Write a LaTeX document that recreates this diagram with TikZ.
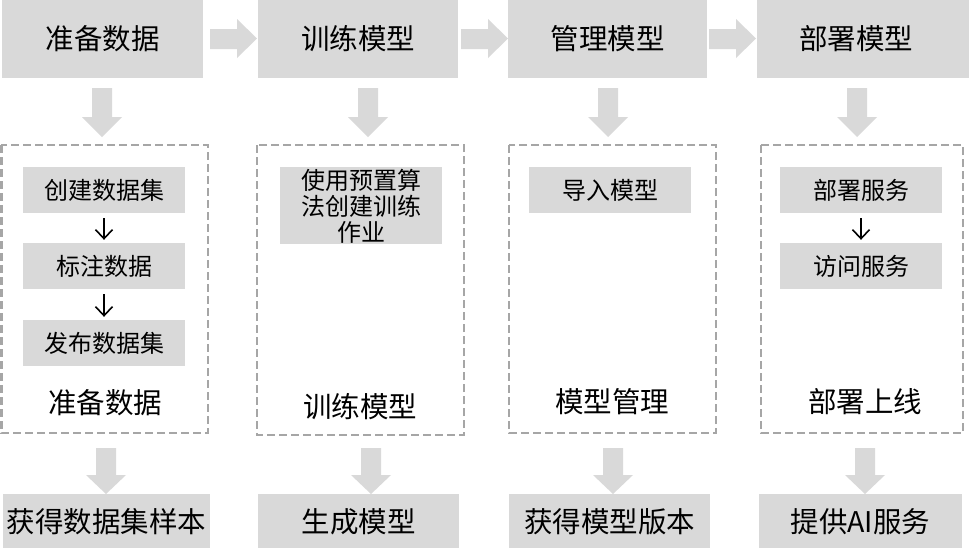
\documentclass[tikz,border=0pt]{standalone}
\usepackage{fontspec}
\setmainfont{Noto Sans CJK SC}
\usetikzlibrary{arrows.meta}
\definecolor{boxgray}{HTML}{D9D9D9}
\definecolor{dashgray}{HTML}{A6A6A6}
\tikzset{
  bigbox/.style={fill=boxgray, inner sep=0pt, font=\fontsize{28.5}{30}\selectfont},
  innerbox/.style={fill=boxgray, inner sep=0pt, minimum width=162pt, minimum height=46pt, font=\fontsize{24}{26}\selectfont},
  lbl/.style={inner sep=0pt, font=\fontsize{28.5}{30}\selectfont},
  dashbox/.style={draw=dashgray, line width=2.6pt, dash pattern=on 8pt off 4pt},
  smallarrow/.style={-{Straight Barb[length=9pt,width=17pt]}, line width=1.6pt, shorten <=5pt, shorten >=3pt},
}
\newcommand{\blockright}[1]{\fill[boxgray] (#1,29) -- ++(27,0) -- ++(0,-10) -- ++(20,19.5) -- ++(-20,19.5) -- ++(0,-9) -- ++(-27,0) -- cycle;}
\newcommand{\blockdownA}[1]{\fill[boxgray] (#1-10,88) -- (#1+10,88) -- (#1+10,117) -- (#1+20,117) -- (#1,137) -- (#1-20,117) -- (#1-10,117) -- cycle;}
\newcommand{\blockdownB}[1]{\fill[boxgray] (#1-10,448) -- (#1+10,448) -- (#1+10,475) -- (#1+20,475) -- (#1,494) -- (#1-20,475) -- (#1-10,475) -- cycle;}
\begin{document}
\begin{tikzpicture}[x=1pt,y=-1pt]
\useasboundingbox (0,0) rectangle (969,547);
\fill[white] (0,0) rectangle (969,547);

% top row
\node[bigbox, minimum width=201pt, minimum height=78pt] (t1) at (102.5,39) {准备数据};
\node[bigbox, minimum width=200pt, minimum height=78pt] (t2) at (358,39) {训练模型};
\node[bigbox, minimum width=199pt, minimum height=78pt] (t3) at (607.5,39) {管理模型};
\node[bigbox, minimum width=212pt, minimum height=78pt, text width=200pt, align=center] (t4) at (863,39) {\hspace*{-14pt}部署模型};

% right block arrows
\blockright{210}
\blockright{461}
\blockright{709}

% top down arrows
\blockdownA{102}
\blockdownA{368}
\blockdownA{608}
\blockdownA{857}

% dashed frames
\draw[dashbox] (1.3,145) rectangle (208,433);
\draw[dashbox] (257,145) rectangle (464,435);
\draw[dashbox] (509,145) rectangle (716,433);
\draw[dashbox] (761,145) rectangle (963,433);

% column 1
\node[innerbox] (a1) at (104,190) {创建数据集};
\node[innerbox] (a2) at (104,266) {标注数据};
\node[innerbox] (a3) at (104,343) {发布数据集};
\draw[smallarrow] (a1) -- (a2);
\draw[smallarrow] (a2) -- (a3);
\node[lbl] (l1) at (105,403) {准备数据};

% column 2
\node[fill=boxgray, inner sep=0pt, minimum width=162pt, minimum height=77pt] (b1) at (361,205.5) {};
\begin{scope}
\clip (280,167) rectangle (442,244);
\node[inner sep=0pt, align=center, font=\fontsize{24}{26}\selectfont] (b1t) at (361,206) {使用预置算\\法创建训练\\作业};
\end{scope}
\node[lbl] (l2) at (360,407) {训练模型};

% column 3
\node[innerbox] (c1) at (610,190) {导入模型};
\node[lbl] (l3) at (612,402) {模型管理};

% column 4
\node[innerbox] (d1) at (861,190) {部署服务};
\node[innerbox] (d2) at (861,266) {访问服务};
\draw[smallarrow] (d1) -- (d2);
\node[lbl] (l4) at (865,402) {部署上线};

% bottom down arrows
\blockdownB{106}
\blockdownB{371}
\blockdownB{613}
\blockdownB{865}

% bottom row
\node[bigbox, minimum width=207pt, minimum height=56pt] (e1) at (106.5,522) {获得数据集样本};
\node[bigbox, minimum width=201pt, minimum height=56pt] (e2) at (358.5,522) {生成模型};
\node[bigbox, minimum width=201pt, minimum height=56pt] (e3) at (609.5,522) {获得模型版本};
\node[bigbox, minimum width=203pt, minimum height=56pt] (e4) at (860.5,522) {提供AI服务};
\end{tikzpicture}
\end{document}
